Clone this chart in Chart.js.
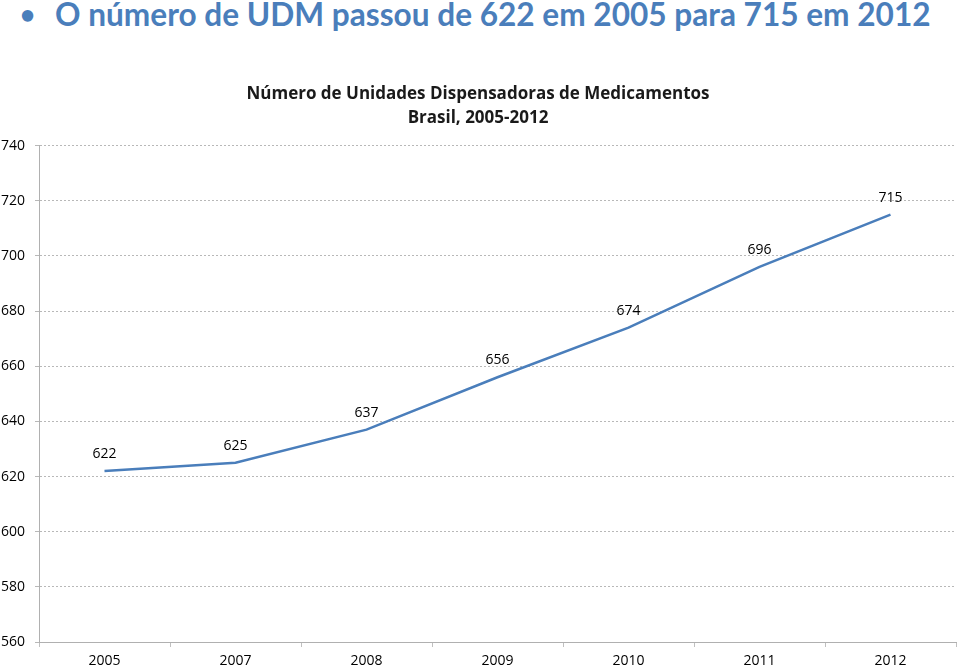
<!DOCTYPE html>
<html lang="pt">
<head>
  <meta charset="UTF-8">
  <title>Número de UDM</title>
  <script src="https://cdn.jsdelivr.net/npm/chart.js"></script>
  <style>
    body {
      margin: 0;
      padding: 0;
      background: #ffffff;
      width: 960px;
      height: 668px;
      overflow: hidden;
      position: relative;
    }
    /* slide heading */
    .headline {
      position: absolute;
      left: 20px;
      top: -5px;
      font-family: 'Lato', sans-serif;
      font-weight: bold;
      font-size: 31.6px;
      color: #4a7ebb;
      white-space: nowrap;
    }
    .headline .bullet {
      display: inline-block;
      width: 35px;
      font-size: 26px;
      vertical-align: 2px;
    }
    .chart-box {
      position: absolute;
      left: 0;
      top: 40px;
      width: 960px;
      height: 628px;
    }
  </style>
</head>
<body>

<div class="headline"><span class="bullet">•</span>O número de UDM passou de 622 em 2005 para 715 em 2012</div>

<div class="chart-box">
  <canvas id="udmChart"></canvas>
</div>

<script>
  // data
  const years = ['2005', '2007', '2008', '2009', '2010', '2011', '2012'];
  const udmCount = [622, 625, 637, 656, 674, 696, 715];
  const yMin = 560;
  const yMax = 740;
  const yStep = 20;

  // value labels above each point
  const pointLabels = {
    id: 'pointLabels',
    afterDatasetsDraw(chart) {
      const ctx = chart.ctx;
      const meta = chart.getDatasetMeta(0);
      ctx.save();
      ctx.font = '14px "Open Sans", sans-serif';
      ctx.fillStyle = '#000000';
      ctx.textAlign = 'center';
      ctx.textBaseline = 'middle';
      meta.data.forEach((pt, i) => {
        ctx.fillText(udmCount[i], pt.x, pt.y - 17);
      });
      ctx.restore();
    }
  };

  const ctx = document.getElementById('udmChart').getContext('2d');
  const udmChart = new Chart(ctx, {
    type: 'line',
    data: {
      labels: years,
      datasets: [{
        data: udmCount,
        borderColor: '#4a7ebb',
        borderWidth: 2.5,
        pointRadius: 0,
        tension: 0,
        fill: false
      }]
    },
    options: {
      responsive: true,
      maintainAspectRatio: false,
      animation: false,
      layout: { padding: { left: 0, right: 4, top: 0, bottom: 0 } },
      plugins: {
        legend: { display: false },
        tooltip: { enabled: false },
        title: {
          display: true,
          text: ['Número de Unidades Dispensadoras de Medicamentos', 'Brasil, 2005-2012'],
          color: '#1a1a1a',
          font: { family: 'Open Sans', size: 17, weight: 'bold', lineHeight: 1.4 },
          padding: { top: 42, bottom: 16 }
        }
      },
      scales: {
        x: {
          offset: true,
          grid: {
            offset: true,
            drawOnChartArea: false,
            drawTicks: true,
            tickLength: 5,
            color: '#c0c0c0'
          },
          border: { display: true, color: '#b0b0b0', width: 1 },
          ticks: {
            color: '#000000',
            font: { family: 'Open Sans', size: 14 },
            padding: 6,
            maxRotation: 0
          },
          afterFit(scale) { scale.height = 26; }
        },
        y: {
          min: yMin,
          max: yMax,
          grid: {
            color: '#b8b8b8',
            drawTicks: true,
            tickLength: 4
          },
          border: { display: true, color: '#b0b0b0', width: 1, dash: [2, 2] },
          ticks: {
            stepSize: yStep,
            color: '#000000',
            font: { family: 'Open Sans', size: 14 },
            padding: 10
          },
          afterFit(scale) { scale.width = 39; }
        }
      }
    },
    plugins: [pointLabels]
  });
</script>

</body>
</html>
